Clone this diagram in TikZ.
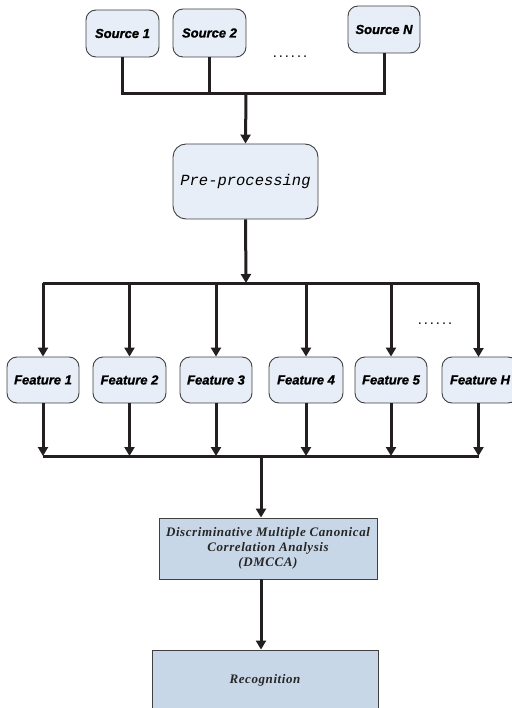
\documentclass[tikz,border=0pt]{standalone}
\usepackage{fontspec}
\setmainfont{Liberation Serif}
\setsansfont{Liberation Sans}
\setmonofont{Liberation Mono}
\usetikzlibrary{arrows.meta}
\definecolor{lightbox}{HTML}{E8EEF7}
\definecolor{darkbox}{HTML}{C8D7E7}
\definecolor{linecol}{HTML}{231F20}
\definecolor{bordercol}{HTML}{404040}
\tikzset{
  rbox/.style={draw=bordercol, line width=0.9pt, fill=lightbox, rounded corners=10pt, inner sep=0pt},
  sbox/.style={draw=bordercol, line width=0.9pt, fill=darkbox, inner sep=0pt},
  conn/.style={draw=linecol, line width=3pt},
  arr/.style={conn, -{Triangle[width=10pt,length=9pt]}},
  lab/.style={font=\sffamily\bfseries\itshape\fontsize{13}{15}\selectfont\addfontfeature{FakeBold=1.2}, text=black},
  dots/.style={font=\sffamily\bfseries\fontsize{11}{12}\selectfont\addfontfeature{LetterSpace=27}, text=linecol},
  serlab/.style={font=\rmfamily\bfseries\itshape\fontsize{13}{15}\selectfont\addfontfeature{LetterSpace=4.5}, text=black!85},
}
\begin{document}
\begin{tikzpicture}[x=1pt,y=-1pt]
\useasboundingbox (0,0) rectangle (511,708);
% sources
\node[rbox, minimum width=73pt, minimum height=47pt, lab] (s1) at (122.5,33.5) {Source 1};
\node[rbox, minimum width=73pt, minimum height=48pt, lab] (s2) at (209.5,33) {Source 2};
\node[rbox, minimum width=72pt, minimum height=47pt, lab] (sn) at (384,29.5) {Source N};
\node[dots] (d1) at (290,57) {......};
\coordinate (j1) at (246,94);
\draw[conn] (s1.south) |- (sn.south |- j1) -- (sn.south);
\draw[conn] (s2.south) -- (s2.south |- j1);
% preprocessing
\node[rbox, rounded corners=13pt, minimum width=145pt, minimum height=75pt, font=\ttfamily\itshape\fontsize{15.5}{18}\selectfont] (pre) at (245.5,181.5) {Pre-processing};
\draw[arr] (j1) -- (pre.north);
% features
\node[rbox, minimum width=72pt, minimum height=46pt, lab] (f1) at (43,380) {Feature 1};
\node[rbox, minimum width=73pt, minimum height=46pt, lab] (f2) at (129.5,380) {Feature 2};
\node[rbox, minimum width=72pt, minimum height=46pt, lab] (f3) at (216,380) {Feature 3};
\node[rbox, minimum width=74pt, minimum height=46pt, lab] (f4) at (306,380) {Feature 4};
\node[rbox, minimum width=72pt, minimum height=46pt, lab] (f5) at (391,380) {Feature 5};
\node[rbox, minimum width=76pt, minimum height=46pt, lab] (fh) at (480,380) {Feature H};
\coordinate (fhn) at (478.5,357);
\coordinate (fhs) at (478.5,403);
\node[dots] (d2) at (435,324) {......};
\coordinate (j2) at (246,283);
\draw[arr] (pre.south) -- (j2);
\draw[conn] (f1.north |- j2) -- (fhn |- j2);
\foreach \f in {f1,f2,f3,f4,f5} {
  \draw[arr] (\f.north |- j2) -- (\f.north);
}
\draw[arr] (fhn |- j2) -- (fhn);
\coordinate (j3) at (261,456);
\draw[conn] (f1.south |- j3) -- (fhs |- j3);
\foreach \f in {f1,f2,f3,f4,f5} {
  \draw[arr] (\f.south) -- (\f.south |- j3);
}
\draw[arr] (fhs) -- (fhs |- j3);
% DMCCA
\node[sbox, minimum width=218pt, minimum height=61pt, align=center, serlab] (dm) at (268,548.5) {Discriminative Multiple Canonical\\Correlation Analysis\\(DMCCA)};
\draw[arr] (j3) -- (j3 |- dm.north);
% Recognition
\node[sbox, minimum width=226pt, minimum height=60pt, serlab] (rec) at (265,680) {Recognition};
\coordinate (a1) at (261,579);
\draw[arr] (a1) -- (a1 |- rec.north);
\end{tikzpicture}
\end{document}
